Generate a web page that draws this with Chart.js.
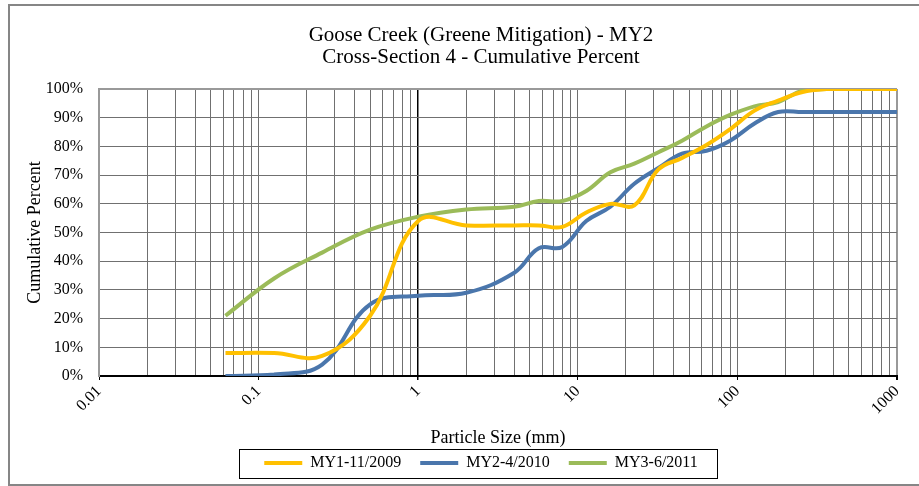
<!DOCTYPE html>
<html><head><meta charset="utf-8">
<script src="https://cdn.jsdelivr.net/npm/chart.js@4.4.1/dist/chart.umd.min.js"></script>
<style>
html,body{margin:0;padding:0;background:#fff;overflow:hidden;width:919px;height:486px}
#wrap{position:absolute;left:0;top:0;width:962px;height:486px}
</style>
</head><body>
<div id="wrap"><canvas id="c" width="962" height="486"></canvas></div>
<script>
// ---- data ----
const sizesMm = [0.062, 0.125, 0.25, 0.5, 1, 2, 4, 5.7, 8, 11.3, 16, 22.6, 32, 45, 64, 90, 128, 180, 256, 362, 512, 1024, 2048];
const my1Values = [8, 8, 7, 21, 54, 52.5, 52.5, 52.5, 52, 57, 60, 59.5, 72, 76, 80.5, 86, 92.5, 96, 99, 100, 100, 100, 100];
const my2Values = [0, 0.5, 4, 25, 28, 29, 36, 44.5, 45, 54, 59, 67, 72.5, 77.5, 78.5, 82, 88, 92, 92, 92, 92, 92, 92];
const my3Values = [21, 34, 43, 51, 55.5, 58, 59, 61, 61, 64.5, 71, 74, 78, 82, 87, 91, 94, 95.5, 99.5, 100, 100, 100, 100];
const seriesNames = ['MY1-11/2009', 'MY2-4/2010', 'MY3-6/2011'];
const seriesColors = ['#FFC000', '#4A76AC', '#9BBB59'];
const xMajorTicks = [0.01, 0.1, 1, 10, 100, 1000];
const xTickLabels = ['0.01', '0.1', '1', '10', '100', '1000'];
const yTickValues = [0, 10, 20, 30, 40, 50, 60, 70, 80, 90, 100];
const chartTitle = ['Goose Creek (Greene Mitigation) - MY2', 'Cross-Section 4 - Cumulative Percent'];
const xTitle = 'Particle Size (mm)';
const yTitle = 'Cumulative Percent';

// all log grid values (1..9 x 10^k)
const xGridValues = [];
for (let e = -2; e <= 2; e++) {
  for (let m = 1; m <= 9; m++) xGridValues.push(Number((m * Math.pow(10, e)).toPrecision(3)));
}
xGridValues.push(1000);

const serif = "'Liberation Serif', 'Times New Roman', serif";
Chart.defaults.font.family = serif;
Chart.defaults.color = '#000';

function mk(vals) { return sizesMm.map((s, i) => ({x: s, y: vals[i]})); }
const allVals = [my1Values, my2Values, my3Values];

const framePlugin = {
  id: 'frames',
  beforeDraw(chart) {
    const ctx = chart.ctx;
    ctx.save();
    ctx.fillStyle = '#fff';
    ctx.fillRect(0, 0, chart.width, chart.height);
    ctx.strokeStyle = '#868686';
    ctx.lineWidth = 2;
    ctx.strokeRect(9, 5, 943, 480);
    ctx.restore();
  },
  afterDraw(chart) {
    const lg = chart.legend;
    if (!lg || !lg.legendHitBoxes || !lg.legendHitBoxes.length) return;
    const hb = lg.legendHitBoxes;
    const first = hb[0], last = hb[hb.length - 1];
    const cy = first.top + first.height / 2;
    const ctx = chart.ctx;
    ctx.save();
    ctx.strokeStyle = '#000';
    ctx.lineWidth = 1;
    const l = Math.round(first.left - 25) + 0.5;
    const r = Math.round(last.left + last.width + 19) + 0.5;
    ctx.strokeRect(l, Math.round(cy - 14.5) + 0.5, r - l, 29);
    ctx.restore();
  }
};

new Chart(document.getElementById('c'), {
  type: 'line',
  data: {
    datasets: allVals.map((v, i) => ({
      label: seriesNames[i],
      data: mk(v),
      borderColor: seriesColors[i],
      backgroundColor: seriesColors[i],
      borderWidth: 4,
      pointRadius: 0,
      tension: 0.4,
      fill: false
    }))
  },
  options: {
    responsive: false,
    animation: false,
    devicePixelRatio: 1,
    layout: {padding: {left: 10, right: 10, top: 5, bottom: 5}},
    plugins: {
      title: {
        display: true,
        text: chartTitle,
        font: {size: 21, weight: 'normal', lineHeight: 1.05},
        padding: {top: 19, bottom: 21},
        color: '#000'
      },
      legend: {
        position: 'bottom',
        labels: {
          boxWidth: 38,
          boxHeight: 0,
          padding: 19,
          font: {size: 16},
          color: '#000'
        }
      },
      tooltip: {enabled: false}
    },
    scales: {
      x: {
        type: 'logarithmic',
        min: 0.01,
        max: 1000,
        afterBuildTicks(scale) { scale.ticks = xGridValues.map(v => ({value: v})); },
        afterFit(scale) { scale.height = 60; },
        ticks: {
          autoSkip: false,
          minRotation: 45,
          maxRotation: 45,
          padding: 2,
          font: {size: 16},
          color: '#000',
          callback(value) {
            const idx = xMajorTicks.findIndex(t => Math.abs(t - value) / t < 1e-6);
            return idx >= 0 ? xTickLabels[idx] : '';
          }
        },
        grid: {
          drawTicks: true,
          tickLength: 4,
          tickColor(ctx) {
            const v = ctx.tick && ctx.tick.value;
            return xMajorTicks.some(t => Math.abs(t - v) / t < 1e-6) ? '#000' : 'rgba(0,0,0,0)';
          },
          color(ctx) {
            const v = ctx.tick && ctx.tick.value;
            if (Math.abs(v - 1) < 1e-9) return '#000';
            if (Math.abs(v - 1000) < 1e-6) return '#999';
            return '#707070';
          },
          lineWidth(ctx) {
            const v = ctx.tick && ctx.tick.value;
            if (Math.abs(v - 1) < 1e-9) return 1.5;
            if (Math.abs(v - 1000) < 1e-6) return 2;
            return 1;
          }
        },
        border: {display: true, color: '#000', width: 2},
        title: {
          display: true,
          text: xTitle,
          font: {size: 18},
          padding: {top: 0, bottom: -12.8},
          color: '#000'
        }
      },
      y: {
        min: 0,
        max: 100,
        afterBuildTicks(scale) { scale.ticks = yTickValues.map(v => ({value: v})); },
        afterFit(scale) { scale.width = 89; },
        ticks: {
          padding: 16,
          font: {size: 16},
          color: '#000',
          callback(value) { return value + '%'; }
        },
        grid: {
          drawTicks: false,
          color(ctx) {
            const v = ctx.tick && ctx.tick.value;
            if (v === 100) return '#999';
            return '#707070';
          },
          lineWidth(ctx) {
            const v = ctx.tick && ctx.tick.value;
            return v === 100 ? 2 : 1;
          }
        },
        border: {display: true, color: '#999', width: 2},
        title: {
          display: true,
          text: yTitle,
          font: {size: 18},
          padding: {top: 14, bottom: 0},
          color: '#000'
        }
      },
      yRight: {
        position: 'right',
        display: true,
        afterFit(scale) { scale.width = 55; },
        ticks: {display: false},
        grid: {display: false, drawTicks: false},
        border: {display: false},
        title: {display: false}
      }
    }
  },
  plugins: [framePlugin]
});
</script>
</body></html>
